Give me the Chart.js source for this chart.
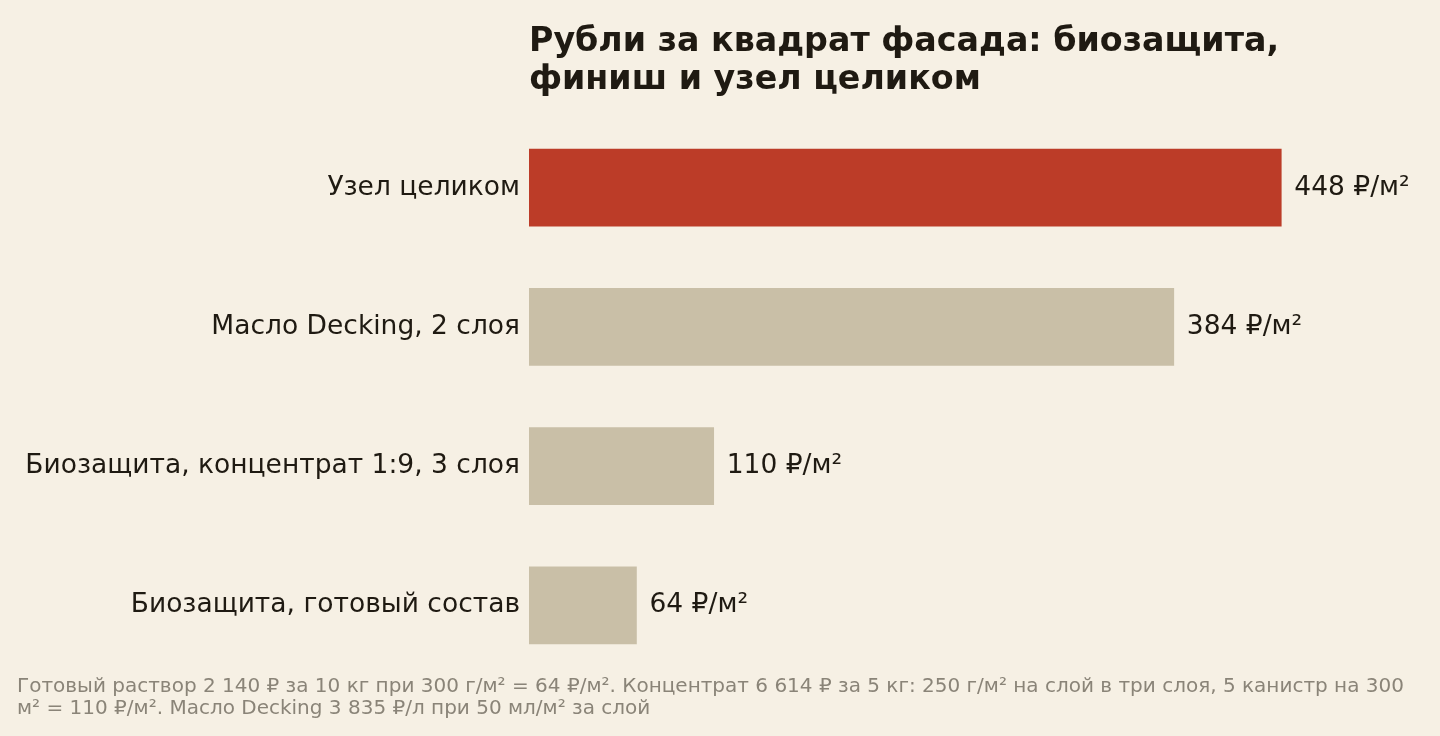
<!DOCTYPE html>
<html lang="ru">
<head>
<meta charset="utf-8">
<script src="https://cdn.jsdelivr.net/npm/chart.js@4"></script>
<style>
  html, body { margin: 0; padding: 0; background: #f6f0e4; }
  body { width: 1440px; height: 736px; position: relative; overflow: hidden; font-family: "DejaVu Sans", sans-serif; }
  #title { position: absolute; left: 529px; top: 21px; font-size: 33.3px; font-weight: bold; color: #1f1a12; line-height: 38px; }
  #note { position: absolute; left: 17px; top: 674px; width: 1396px; font-size: 20px; color: #8a8478; line-height: 22px; }
  #wrap { position: absolute; left: 0; top: 0; width: 1440px; height: 736px; }
</style>
</head>
<body>
<div id="wrap"><canvas id="costChart"></canvas></div>
<div id="title">Рубли за квадрат фасада: биозащита,<br>финиш и узел целиком</div>
<div id="note">Готовый раствор 2 140 ₽ за 10 кг при 300 г/м² = 64 ₽/м². Концентрат 6 614 ₽ за 5 кг: 250 г/м² на слой в три слоя, 5 канистр на 300 м² = 110 ₽/м². Масло Decking 3 835 ₽/л при 50 мл/м² за слой</div>
<script>
// данные
const categories = ['Узел целиком', 'Масло Decking, 2 слоя', 'Биозащита, концентрат 1:9, 3 слоя', 'Биозащита, готовый состав'];
const costValues = [448, 384, 110, 64];
const valueLabels = ['448 ₽/м²', '384 ₽/м²', '110 ₽/м²', '64 ₽/м²'];
const barColors = ['#bc3c28', '#c9bfa7', '#c9bfa7', '#c9bfa7'];

// подписи значений справа от столбцов
const valueLabelPlugin = {
  id: 'valueLabels',
  afterDatasetsDraw(chart) {
    const ctx = chart.ctx;
    const meta = chart.getDatasetMeta(0);
    ctx.save();
    ctx.font = '26.5px "DejaVu Sans"';
    ctx.fillStyle = '#1f1a12';
    ctx.textAlign = 'left';
    ctx.textBaseline = 'middle';
    meta.data.forEach((bar, i) => {
      ctx.fillText(valueLabels[i], bar.x + 13, bar.y);
    });
    ctx.restore();
  }
};

document.addEventListener("DOMContentLoaded", function() {
  let ctx = document.getElementById('costChart').getContext('2d');
  let costChart = new Chart(ctx, {
    type: 'bar',
    data: {
      labels: categories,
      datasets: [{
        data: costValues,
        backgroundColor: barColors,
        borderWidth: 0,
        barThickness: 77
      }]
    },
    options: {
      indexAxis: 'y',
      responsive: true,
      maintainAspectRatio: false,
      animation: false,
      layout: { padding: { top: 118, bottom: 61, right: 105, left: 0 } },
      plugins: {
        legend: { display: false },
        tooltip: { enabled: false }
      },
      scales: {
        x: {
          min: 0,
          max: 480,
          display: false,
          grid: { display: false }
        },
        y: {
          border: { display: false },
          grid: { display: false, drawTicks: false },
          afterFit: (scale) => { scale.width = 529; },
          ticks: {
            padding: 9,
            color: '#1f1a12',
            font: { family: 'DejaVu Sans', size: 26.5 }
          }
        }
      }
    },
    plugins: [valueLabelPlugin]
  });
});
</script>
</body>
</html>
